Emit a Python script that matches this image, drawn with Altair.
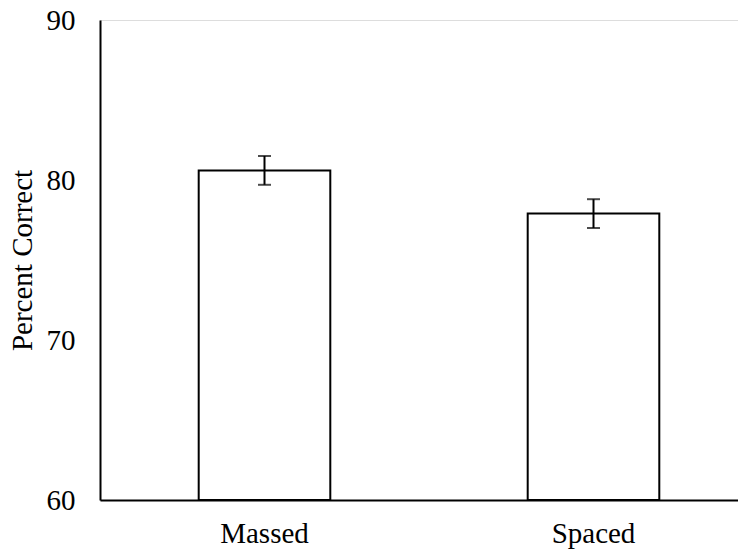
import altair as alt
import pandas as pd

conditions = ["Massed", "Spaced"]
means = [80.6, 77.9]
err_low = [79.7, 77.0]
err_high = [81.5, 78.8]

df = pd.DataFrame({"cond": conditions, "mean": means, "lo": err_low, "hi": err_high})

FONT = "Times New Roman, Liberation Serif, Times, serif"

x = alt.X("cond:N", sort=conditions, title=None,
          scale=alt.Scale(range=[0, 658], paddingInner=0.6, paddingOuter=0.3),
          axis=alt.Axis(labelAngle=0, ticks=False, domainColor="black", domainWidth=2,
                        labelFont=FONT, labelFontSize=29, labelColor="black",
                        labelPadding=19))

y_scale = alt.Scale(domain=[60, 90], zero=False, nice=False)

bars = alt.Chart(df).mark_bar(fill="white", stroke="black", strokeWidth=2).encode(
    x=x,
    y=alt.Y("mean:Q", scale=y_scale, title="Percent Correct",
            axis=alt.Axis(values=[60, 70, 80, 90], grid=False, ticks=False,
                          domainColor="black", domainWidth=2,
                          labelFont=FONT, labelFontSize=29, labelColor="black",
                          labelPadding=25,
                          titleFont=FONT, titleFontSize=29, titleFontWeight="normal",
                          titleColor="black", titleX=-78, titleY=240,
                          titleBaseline="middle", titleAlign="center")),
    y2=alt.datum(60),
)

stems = alt.Chart(df).mark_rule(color="black", strokeWidth=2).encode(
    x=alt.X("cond:N", sort=conditions),
    y=alt.Y("lo:Q", scale=y_scale),
    y2="hi:Q",
)

caps_lo = alt.Chart(df).mark_tick(color="black", thickness=2, size=13, orient="horizontal").encode(
    x=alt.X("cond:N", sort=conditions),
    y=alt.Y("lo:Q", scale=y_scale),
)
caps_hi = alt.Chart(df).mark_tick(color="black", thickness=2, size=13, orient="horizontal").encode(
    x=alt.X("cond:N", sort=conditions),
    y=alt.Y("hi:Q", scale=y_scale),
)

chart = alt.layer(bars, stems, caps_lo, caps_hi).properties(
    width=638, height=480,
    autosize=alt.AutoSizeParams(type="none"),
    padding={"left": 92, "top": 12, "right": 0, "bottom": 50},
).configure_view(stroke=None).configure(background="white")

chart.save("out.html", embed_options={"renderer": "svg", "actions": False})
